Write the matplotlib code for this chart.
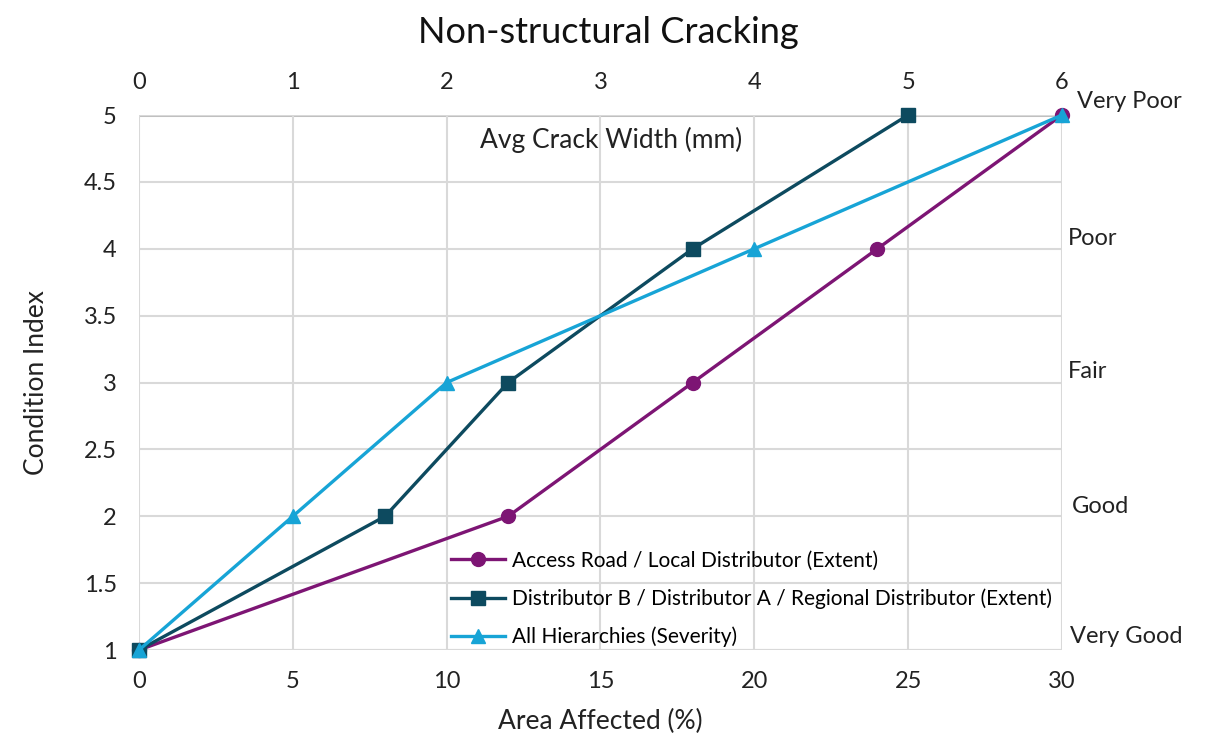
import matplotlib
matplotlib.use("Agg")
import matplotlib.pyplot as plt
from matplotlib.transforms import blended_transform_factory

plt.rcParams['font.family'] = ['Lato', 'DejaVu Sans']

# Condition index levels (y) shared by all series
condition = [1, 2, 3, 4, 5]

# Area affected (%) per condition index
access_area = [0, 12, 18, 24, 30]
distrib_area = [0, 8, 12, 18, 25]
# Average crack width (mm) per condition index
severity_width = [0, 1, 2, 4, 6]

access_label = "Access Road / Local Distributor (Extent)"
distrib_label = "Distributor B / Distributor A / Regional Distributor (Extent)"
severity_label = "All Hierarchies (Severity)"

bottom_ticks = [0, 5, 10, 15, 20, 25, 30]
top_ticks = [0, 1, 2, 3, 4, 5, 6]
y_ticks = [1, 1.5, 2, 2.5, 3, 3.5, 4, 4.5, 5]
y_ticklabels = ["1", "1.5", "2", "2.5", "3", "3.5", "4", "4.5", "5"]

rating_names = ["Very Good", "Good", "Fair", "Poor", "Very Poor"]
rating_levels = [1.1, 2.07, 3.08, 4.08, 5.1]
rating_xoff = [1.0087, 1.0108, 1.0065, 1.0065, 1.0163]

c_access = "#7d1574"
c_distrib = "#0d4a5f"
c_sev = "#17a4d6"
grid_c = "#d9d9d9"
txt_c = "#222222"

fig = plt.figure(figsize=(12.17, 7.36), dpi=100)
ax = fig.add_axes([0.1142, 0.1168, 0.7584, 0.7269])
ax.set_xlim(0, 30)
ax.set_ylim(1, 5)
ax.set_xticks(bottom_ticks)
ax.set_yticks(y_ticks)
ax.set_yticklabels(y_ticklabels)
for s in ax.spines.values():
    s.set_visible(False)
ax.grid(True, color=grid_c, linewidth=1.5, zorder=0)
ax.axhline(5, color="#bfbfbf", linewidth=2.2, zorder=1)
ax.axhline(1, color="#bfbfbf", linewidth=2.2, zorder=1)
ax.tick_params(axis="x", length=0, labelsize=17, pad=15, colors=txt_c)
ax.tick_params(axis="y", length=0, labelsize=17, pad=16, colors=txt_c)
ax.set_xlabel("Area Affected (%)", fontsize=19, labelpad=12, color=txt_c)
ax.set_ylabel("Condition Index", fontsize=19, labelpad=25, color=txt_c)

l1, = ax.plot(access_area, condition, color=c_access, lw=2.4, marker="o",
              ms=10, clip_on=False, zorder=4, label=access_label)
l2, = ax.plot(distrib_area, condition, color=c_distrib, lw=2.4, marker="s",
              ms=10, clip_on=False, zorder=5, label=distrib_label)

ax2 = ax.twiny()
ax2.set_xlim(0, 6)
ax2.set_xticks(top_ticks)
for s in ax2.spines.values():
    s.set_visible(False)
ax2.tick_params(axis="x", length=0, labelsize=17, pad=16, colors=txt_c)
l3, = ax2.plot(severity_width, condition, color=c_sev, lw=2.4, marker="^",
               ms=10, clip_on=False, zorder=6, label=severity_label)

ax.text(0.512, 0.953, "Avg Crack Width (mm)", transform=ax.transAxes,
        ha="center", va="center", fontsize=19, color=txt_c)

trans = blended_transform_factory(ax.transAxes, ax.transData)
for name, lvl, xo in zip(rating_names, rating_levels, rating_xoff):
    ax.text(xo, lvl, name, transform=trans, ha="left", va="center",
            fontsize=17, color=txt_c, clip_on=False)

fig.suptitle("Non-structural Cracking", fontsize=26, y=0.978, color="#111111")

leg = ax2.legend(handles=[l1, l2, l3], loc="lower left",
                 bbox_to_anchor=(0.318, -0.03), frameon=False, fontsize=15,
                 handlelength=2.6, handletextpad=0.3, labelspacing=0.85)

fig.savefig("out.png", dpi=100)
